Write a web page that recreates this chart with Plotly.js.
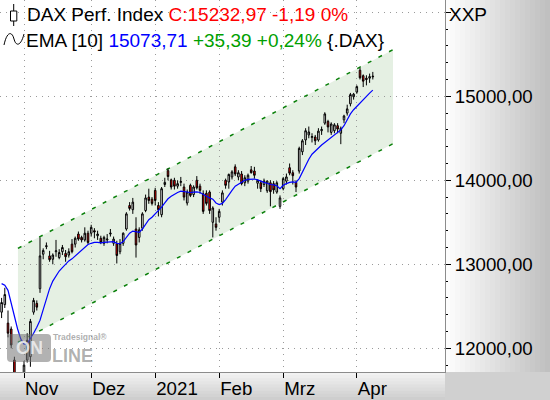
<!DOCTYPE html>
<html>
<head>
<meta charset="utf-8">
<script src="https://cdn.plot.ly/plotly-3.0.1.min.js"></script>
<style>
  html, body { margin: 0; padding: 0; background: #ffffff; }
  #chart { width: 550px; height: 400px; }
</style>
</head>
<body>
<div id="chart"></div>
<script>
// DAX daily candles, Oct 2020 - Apr 2021
const dates = [
  '2020-10-22','2020-10-23','2020-10-26','2020-10-27','2020-10-28','2020-10-29','2020-10-30',
  '2020-11-02','2020-11-03','2020-11-04','2020-11-05','2020-11-06','2020-11-09','2020-11-10',
  '2020-11-11','2020-11-12','2020-11-13','2020-11-16','2020-11-17','2020-11-18','2020-11-19',
  '2020-11-20','2020-11-23','2020-11-24','2020-11-25','2020-11-26','2020-11-27','2020-11-30',
  '2020-12-01','2020-12-02','2020-12-03','2020-12-04','2020-12-07','2020-12-08','2020-12-09',
  '2020-12-10','2020-12-11','2020-12-14','2020-12-15','2020-12-16','2020-12-17','2020-12-18',
  '2020-12-21','2020-12-22','2020-12-23','2020-12-28','2020-12-29','2020-12-30',
  '2021-01-04','2021-01-05','2021-01-06','2021-01-07','2021-01-08','2021-01-11','2021-01-12',
  '2021-01-13','2021-01-14','2021-01-15','2021-01-18','2021-01-19','2021-01-20','2021-01-21',
  '2021-01-22','2021-01-25','2021-01-26','2021-01-27','2021-01-28','2021-01-29',
  '2021-02-01','2021-02-02','2021-02-03','2021-02-04','2021-02-05','2021-02-08','2021-02-09',
  '2021-02-10','2021-02-11','2021-02-12','2021-02-15','2021-02-16','2021-02-17','2021-02-18',
  '2021-02-19','2021-02-22','2021-02-23','2021-02-24','2021-02-25','2021-02-26',
  '2021-03-01','2021-03-02','2021-03-03','2021-03-04','2021-03-05','2021-03-08','2021-03-09',
  '2021-03-10','2021-03-11','2021-03-12','2021-03-15','2021-03-16','2021-03-17','2021-03-18',
  '2021-03-19','2021-03-22','2021-03-23','2021-03-24','2021-03-25','2021-03-26','2021-03-29',
  '2021-03-30','2021-03-31','2021-04-01','2021-04-06','2021-04-07','2021-04-08','2021-04-09',
  '2021-04-12'
];

const open = [
  12430,12520,12300,12230,11860,11580,11540,
  11600,11860,11900,12430,12535,12710,13120,
  13210,13100,13060,13150,13080,13150,13130,
  13110,13240,13240,13360,13320,13290,13370,
  13370,13400,13340,13310,13250,13290,13360,
  13250,13245,13150,13250,13420,13700,13650,
  13420,13320,13430,13640,13800,13775,
  13880,13700,13590,13950,14115,14005,14000,
  13930,13975,13920,13730,13940,13830,14000,
  13930,13840,13845,13860,13500,13480,
  13560,13740,14000,13980,14040,14160,14040,
  14075,13970,13990,14125,14110,13965,13970,
  13950,13875,13970,13960,13860,13690,
  13900,13990,14150,14090,13975,14110,14340,
  14480,14540,14510,14515,14480,14590,14680,
  14700,14570,14590,14650,14560,14720,14800,
  14910,14995,15050,15310,15245,15215,15215,
  15240
];

const high = [
  12600,12720,12450,12260,11900,11650,11620,
  11850,12180,12350,12600,12570,13320,13190,
  13260,13160,13130,13290,13180,13230,13170,
  13190,13300,13330,13390,13340,13440,13400,
  13470,13430,13400,13340,13340,13360,13420,
  13330,13280,13300,13380,13620,13740,13790,
  13560,13440,13620,13830,13900,13800,
  13910,13740,13920,14030,14140,14020,14030,
  14000,14040,13960,13890,13960,13940,14050,
  13960,13880,13880,13880,13690,13560,
  13660,13880,14020,14080,14120,14190,14120,
  14110,14060,14080,14170,14160,14010,14000,
  14020,14000,14000,13990,13990,13820,
  14040,14080,14200,14120,14000,14400,14490,
  14620,14640,14560,14540,14620,14640,14810,
  14720,14690,14680,14680,14640,14780,14900,
  15040,15040,15130,15340,15260,15250,15270,
  15290
];

const low = [
  12360,12480,12130,12000,11450,11450,11450,
  11560,11830,11780,12400,12450,12660,13060,
  13180,13030,13000,13090,13060,13110,13030,
  13080,13130,13200,13280,13260,13270,13240,
  13330,13310,13290,13240,13220,13250,13330,
  13220,13010,13120,13220,13400,13640,13600,
  13080,13260,13400,13620,13720,13700,
  13700,13570,13560,13920,14000,13890,13890,
  13900,13930,13760,13700,13800,13800,13890,
  13840,13600,13700,13600,13320,13400,
  13500,13700,13900,13900,14010,14050,14000,
  13940,13930,13960,14080,14020,13900,13860,
  13920,13850,13690,13840,13840,13660,
  13880,13950,14060,13950,13860,14080,14300,
  14420,14500,14450,14420,14460,14540,14660,
  14570,14540,14560,14560,14430,14680,14770,
  14880,14960,15030,15200,15110,15130,15160,
  15200
];

const close = [
  12545,12640,12180,12040,11560,11600,11556,
  11800,12095,12320,12570,12490,13100,13165,
  13220,13055,13110,13160,13140,13200,13090,
  13150,13150,13310,13300,13290,13370,13260,
  13440,13385,13360,13260,13320,13300,13370,
  13300,13105,13250,13370,13600,13665,13740,
  13230,13410,13600,13790,13760,13725,
  13760,13650,13900,13975,14045,13920,13930,
  13960,13985,13800,13860,13820,13920,13910,
  13880,13630,13725,13640,13670,13440,
  13630,13850,13940,14070,14100,14075,14090,
  13960,14030,14060,14090,14060,14000,13900,
  13990,13990,13865,13885,13970,13790,
  14020,14040,14085,14055,13920,14380,14470,
  14590,14575,14520,14470,14585,14605,14790,
  14635,14670,14660,14610,14620,14765,14850,
  15020,15025,15115,15220,15180,15200,15234.16,
  15232.97
];

// exponential moving average, 10 periods
const ema10 = [
  12770,12750,12690,12540,12360,12230,12110,
  12050,12055,12110,12180,12250,12335,12460,
  12590,12710,12800,12865,12920,12960,13005,
  13040,13065,13100,13140,13175,13210,13235,
  13250,13260,13260,13255,13260,13265,13270,
  13270,13250,13245,13270,13320,13370,13395,
  13385,13380,13420,13480,13530,13560,
  13600,13630,13680,13730,13780,13810,13835,
  13855,13870,13865,13862,13855,13860,13862,
  13855,13830,13815,13790,13775,13730,
  13710,13725,13770,13830,13880,13930,13955,
  13985,14000,14010,14015,14015,14005,13985,
  13975,13965,13950,13945,13935,13900,
  13940,13960,13975,13980,13975,14020,14100,
  14180,14250,14310,14350,14390,14420,14450,
  14480,14510,14540,14565,14600,14650,14720,
  14790,14840,14880,14930,14970,15010,15038.32,
  15073.71
];

const monthTicks  = ['2020-11-02','2020-12-01','2021-01-04','2021-02-01','2021-03-01','2021-04-01'];
const monthLabels = ['Nov','Dez','2021','Feb','Mrz','Apr'];
const priceTicks  = [12000, 13000, 14000, 15000, 16000];

// trend channel: start/end (category index) and prices of both edges
const channelIdx   = [5.1, 122.3];
const channelUpper = [13190, 15555];
const channelLower = [12070, 14435];

// ---- helpers ---------------------------------------------------------
const FONT = 'Liberation Sans, Arial, sans-serif';
const PW = 445, PH = 372;                 // plot area size in px
const px = x => x / PW;                    // px -> paper x
const py = y => 1 - y / PH;                // px -> paper y
const fmt = v => v.toFixed(2).replace('.', ',');
const sgn = v => (v >= 0 ? '+' : '') + fmt(v);

const n = close.length;
const lastClose = close[n - 1];
const closeChg = lastClose - close[n - 2];
const lastEma = ema10[n - 1];
const emaChg = lastEma - ema10[n - 2];
const emaPct = emaChg / ema10[n - 2] * 100;

// ---- traces ----------------------------------------------------------
const candles = {
  type: 'candlestick',
  x: dates, open: open, high: high, low: low, close: close,
  increasing: { line: { color: '#000000', width: 1 }, fillcolor: '#ffffff' },
  decreasing: { line: { color: '#000000', width: 1 }, fillcolor: '#ff0000' },
  whiskerwidth: 0,
  showlegend: false,
  hoverinfo: 'none'
};

const emaLine = {
  type: 'scatter', mode: 'lines',
  x: dates, y: ema10,
  line: { color: '#0000ff', width: 1.2 },
  showlegend: false, hoverinfo: 'none'
};

// ---- shapes ----------------------------------------------------------
const shapes = [];

// right scale panel: horizontal grey gradient
const bandsR = 21;
for (let i = 0; i < bandsR; i++) {
  const x0 = 445 + i * 105 / bandsR, x1 = 445 + (i + 1) * 105 / bandsR;
  const c = Math.round(253 - (253 - 192) * i / (bandsR - 1));
  shapes.push({ type: 'rect', xref: 'paper', yref: 'paper', layer: 'below',
    x0: px(x0), x1: px(x1) + 0.002, y0: py(0), y1: py(372),
    fillcolor: `rgb(${c},${c},${c})`, line: { width: 0 } });
}
// time scale strip: vertical grey gradient
const bandsB = 9;
for (let i = 0; i < bandsB; i++) {
  const y0 = 372 + i * 28 / bandsB, y1 = 372 + (i + 1) * 28 / bandsB;
  const c = Math.round(242 - (242 - 206) * i / (bandsB - 1));
  shapes.push({ type: 'rect', xref: 'paper', yref: 'paper', layer: 'below',
    x0: px(0), x1: px(445), y0: py(y0), y1: py(y1) - 0.003,
    fillcolor: `rgb(${c},${c},${c})`, line: { width: 0 } });
}
shapes.push({ type: 'rect', xref: 'paper', yref: 'paper', layer: 'below',
  x0: px(445), x1: px(550), y0: py(372), y1: py(400),
  fillcolor: '#d0d0d0', line: { width: 0 } });

// trend channel
const [i0, i1] = channelIdx;
shapes.push({ type: 'path', xref: 'x', yref: 'y', layer: 'below',
  path: `M ${i0},${channelUpper[0]} L ${i1},${channelUpper[1]} L ${i1},${channelLower[1]} L ${i0},${channelLower[0]} Z`,
  fillcolor: '#e5f0e3', line: { width: 0 } });
[channelUpper, channelLower].forEach(edge => {
  shapes.push({ type: 'path', xref: 'x', yref: 'y', layer: 'between',
    path: `M ${i0},${edge[0]} L ${i1},${edge[1]}`,
    line: { color: '#0a800a', width: 1.5, dash: '4px,8px' } });
});

// header icons: candle and wave
shapes.push({ type: 'line', xref: 'paper', yref: 'paper',
  x0: px(13.7), x1: px(13.7), y0: py(4), y1: py(26), line: { color: '#000', width: 1 } });
shapes.push({ type: 'rect', xref: 'paper', yref: 'paper',
  x0: px(10.5), x1: px(16.8), y0: py(11), y1: py(21),
  fillcolor: '#ffffff', line: { color: '#000', width: 1 } });
shapes.push({ type: 'path', xref: 'paper', yref: 'paper',
  path: `M ${px(4)},${py(45)} C ${px(7)},${py(31)} ${px(12)},${py(31)} ${px(14)},${py(39)} ` +
        `C ${px(16)},${py(47)} ${px(21)},${py(46)} ${px(24)},${py(34)}`,
  line: { color: '#000', width: 1 } });

// watermark badge
const r = 4, bx0 = 7, bx1 = 51, by0 = 334, by1 = 362;
shapes.push({ type: 'path', xref: 'paper', yref: 'paper', layer: 'above',
  path: `M ${px(bx0 + r)},${py(by0)} L ${px(bx1 - r)},${py(by0)} Q ${px(bx1)},${py(by0)} ${px(bx1)},${py(by0 + r)} ` +
        `L ${px(bx1)},${py(by1 - r)} Q ${px(bx1)},${py(by1)} ${px(bx1 - r)},${py(by1)} ` +
        `L ${px(bx0 + r)},${py(by1)} Q ${px(bx0)},${py(by1)} ${px(bx0)},${py(by1 - r)} ` +
        `L ${px(bx0)},${py(by0 + r)} Q ${px(bx0)},${py(by0)} ${px(bx0 + r)},${py(by0)} Z`,
  fillcolor: 'rgba(115,115,115,0.55)', line: { width: 0 } });

// ---- annotations -----------------------------------------------------
const note = (x, y, text, size, extra) => Object.assign({
  xref: 'paper', yref: 'paper', x: px(x), y: py(y), xanchor: 'left', yanchor: 'middle',
  showarrow: false, text: text, borderpad: 0,
  font: { family: FONT, size: size, color: '#000000' }
}, extra || {});

const annotations = [
  note(26, 14.5, `DAX Perf. Index <span style="color:#ff0000">C:${fmt(lastClose)} ${fmt(closeChg)} 0%</span>`, 19),
  note(25, 40, `EMA [10] <span style="color:#0000ff">${fmt(lastEma)}</span> ` +
               `<span style="color:#00a000">${sgn(emaChg)} ${sgn(emaPct)}%</span> {.DAX}`, 19),
  note(448, 14.5, 'XXP', 19),
  note(29, 348, 'ON', 18, { xanchor: 'center', font: { family: FONT, size: 18, color: 'rgba(240,240,240,0.85)', weight: 'bold' } }),
  note(51, 356, 'LINE', 18, { font: { family: FONT, size: 18, color: 'rgba(125,125,125,0.6)', weight: 'bold' } }),
  note(52, 337, 'Tradesignal®', 8.5, { font: { family: FONT, size: 8.5, color: 'rgba(140,140,140,0.7)', weight: 'bold' } })
];

// ---- layout ----------------------------------------------------------
const grid = { showgrid: true, gridcolor: '#9a9a9a', gridwidth: 1, griddash: '1px,5px' };

const layout = {
  width: 550, height: 400,
  margin: { l: 0, r: 105, t: 0, b: 28, pad: 0 },
  paper_bgcolor: '#ffffff', plot_bgcolor: '#ffffff',
  separators: ',.',
  showlegend: false,
  font: { family: FONT, size: 19, color: '#000000' },
  xaxis: Object.assign({
    type: 'category', categoryorder: 'trace',
    range: [-0.5, 138.56], autorange: false,
    rangeslider: { visible: false },
    tickmode: 'array', tickvals: monthTicks, ticktext: monthLabels,
    ticks: 'outside', ticklen: 5, tickcolor: '#000000', tickwidth: 1,
    ticklabelposition: 'outside right',
    tickfont: { family: FONT, size: 18.7, color: '#000000' },
    showline: true, linecolor: '#8c8c8c', linewidth: 1, mirror: true,
    zeroline: false, fixedrange: true
  }, grid),
  yaxis: Object.assign({
    side: 'right',
    range: [11718, 16146], autorange: false,
    tickmode: 'array', tickvals: priceTicks,
    ticktext: priceTicks.map(v => v < 16000 ? fmt(v) : ''),
    ticks: 'outside', ticklen: 5, tickcolor: '#000000', tickwidth: 1,
    tickfont: { family: FONT, size: 18.7, color: '#000000' },
    minor: { dtick: 200, tick0: 0, ticks: 'outside', ticklen: 2, tickcolor: '#000000', showgrid: false },
    showline: true, linecolor: '#8c8c8c', linewidth: 1, mirror: true,
    zeroline: false, fixedrange: true
  }, grid),
  shapes: shapes,
  annotations: annotations
};

Plotly.newPlot('chart', [candles, emaLine], layout, { staticPlot: true, displayModeBar: false });
</script>
</body>
</html>
